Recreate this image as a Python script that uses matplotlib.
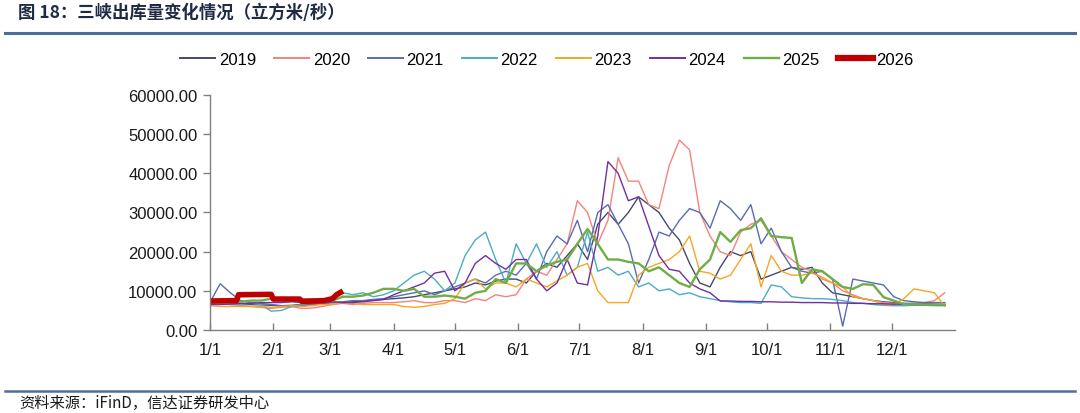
import numpy as np
import matplotlib
matplotlib.use("Agg")
import matplotlib.pyplot as plt
from matplotlib.lines import Line2D

plt.rcParams['font.family'] = ['Liberation Sans', 'Noto Sans CJK SC', 'DejaVu Sans']

# day-of-year sample positions (every 5 days)
days = list(range(0, 361, 5))

y2019 = [6800, 6700, 6600, 6500, 6500, 6400,
         6300, 6200, 6300, 6500, 6600, 6800,
         7000, 7000, 7200, 7400, 7600, 7800,
         8000, 8200, 8500, 9000, 9500, 10000,
         10500, 11000, 12000, 11500, 12500, 13000,
         13000, 12000, 15000, 17000, 16000, 19000,
         22000, 18000, 27000, 30000, 27000, 30000,
         34000, 32000, 30000, 26000, 23000, 17000,
         12000, 11000, 16000, 20000, 19000, 20000,
         13000, 14000, 15000, 16000, 15500, 16000,
         12000, 9500, 9000, 8500, 8000, 7500,
         7200, 7000, 6800, 6800, 6700, 6600, 6500]

y2020 = [7000, 6800, 6500, 6300, 6000, 5800,
         5500, 5800, 6000, 5500, 5600, 6000,
         6500, 6800, 6500, 6800, 7000, 7000,
         7000, 7200, 7500, 7000, 7000, 7500,
         7500, 7000, 8000, 7500, 9000, 8500,
         9000, 13000, 15000, 14000, 18000, 22000,
         33000, 30000, 22000, 28000, 44000, 38000,
         38000, 32000, 31000, 42000, 48500, 46000,
         30000, 24000, 20000, 19000, 25000, 27000,
         28000, 24000, 20000, 18000, 16000, 15000,
         13000, 12000, 10000, 9000, 8000, 7500,
         7000, 6800, 6500, 6800, 7000, 7500, 9500]

y2021 = [7000, 11800, 9500, 7500, 7000, 6800,
         6500, 6200, 6000, 6200, 6500, 6800,
         7000, 7200, 7500, 7500, 7800, 8000,
         8500, 9000, 9500, 10000, 9000, 10000,
         11000, 12000, 13000, 12000, 14000, 15000,
         14000, 17000, 13000, 20000, 24000, 22000,
         28000, 20000, 30000, 32000, 27000, 22000,
         12000, 18000, 25000, 24000, 28000, 31000,
         30000, 26000, 33000, 31000, 28000, 32000,
         22000, 26000, 20000, 16000, 15000, 14500,
         15000, 13000, 1000, 13000, 12500, 12000,
         11500, 8500, 7500, 7200, 7000, 7000, 7000]

y2022 = [7000, 6800, 6500, 6500, 6800, 6500,
         4800, 5000, 6000, 6500, 7000, 7500,
         8500, 9500, 9000, 9500, 8500, 9000,
         10000, 12000, 14000, 15000, 13000, 10000,
         12000, 19000, 23000, 25000, 18000, 12000,
         22000, 17000, 22000, 16000, 20000, 14000,
         16000, 25000, 15000, 16000, 14000, 15000,
         11000, 12000, 10000, 10500, 9000, 9500,
         8500, 8000, 7500, 7200, 7000, 7000,
         6800, 11500, 11000, 8500, 8200, 8000,
         8000, 7800, 7500, 7000, 6800, 6500,
         6300, 6200, 6200, 6300, 6300, 6200, 6200]

y2023 = [6200, 6000, 6000, 6000, 6000, 6000,
         5800, 6000, 6200, 6000, 6200, 6500,
         6500, 7000, 6800, 6500, 6500, 6500,
         6500, 6000, 5800, 6000, 6500, 6800,
         8000, 12000, 13000, 10500, 12000, 12000,
         11000, 13000, 12000, 11000, 12500, 14000,
         16000, 17000, 10000, 7000, 7000, 7000,
         14000, 16000, 17000, 18000, 20000, 24000,
         15000, 14500, 13000, 14000, 18000, 22000,
         11000, 19000, 15000, 14000, 14000, 14500,
         13500, 12000, 11000, 8500, 8000, 7500,
         6500, 6500, 8000, 10500, 10000, 9500, 6000]

y2024 = [6500, 6500, 6600, 6800, 6800, 7000,
         7000, 7000, 7200, 7000, 7000, 7200,
         7200, 7000, 7000, 7200, 7500, 7800,
         9000, 10000, 11000, 12000, 14500, 15000,
         10000, 12000, 17000, 19000, 17000, 15500,
         18000, 18000, 13000, 10000, 12000, 18000,
         12000, 11500, 24000, 43000, 40000, 33000,
         34000, 26500, 19000, 15500, 15000, 12000,
         10500, 9500, 7400, 7400, 7300, 7300,
         7200, 7200, 7100, 7100, 7000, 7000,
         7000, 6900, 6900, 6800, 6800, 6700,
         6700, 6600, 6600, 6500, 6500, 6500, 6400]

y2025 = [7000, 7000, 7200, 7200, 7500, 7500,
         8000, 8200, 8000, 7800, 7800, 7500,
         7500, 8500, 8500, 8800, 9500, 10500,
         10500, 10000, 10500, 8500, 8500, 8800,
         8500, 8000, 9500, 10000, 13000, 12000,
         17000, 17000, 15000, 16500, 17400, 18000,
         22000, 25800, 22000, 18000, 18000, 17400,
         17000, 15000, 16000, 14000, 12000, 11000,
         15500, 18000, 25000, 22500, 25500, 26000,
         28500, 24000, 23700, 23500, 12000, 15500,
         15000, 13000, 11000, 10500, 11700, 11500,
         8400, 7500, 6600, 6600, 6500, 6500, 6500]

days2026 = [0, 13, 14, 30, 31, 44, 45, 56, 60, 62, 64]
y2026 = [7400, 7500, 9000, 9100, 7900, 7900, 7300, 7500, 8000, 9000, 9600]

series = [
    ("2019", days, y2019, "#414b6b", 1.0),
    ("2020", days, y2020, "#f4837d", 1.0),
    ("2021", days, y2021, "#5b6bb0", 1.0),
    ("2022", days, y2022, "#4bacc6", 1.0),
    ("2023", days, y2023, "#f6a623", 1.0),
    ("2024", days, y2024, "#7030a0", 1.0),
    ("2025", days, y2025, "#70ad47", 1.7),
    ("2026", days2026, y2026, "#c00000", 4.0),
]

month_days = [0, 31, 59, 90, 120, 151, 181, 212, 243, 273, 304, 334]
month_labels = ["1/1", "2/1", "3/1", "4/1", "5/1", "6/1", "7/1", "8/1",
                "9/1", "10/1", "11/1", "12/1"]
y_ticks = [0, 10000, 20000, 30000, 40000, 50000, 60000]

fig = plt.figure(figsize=(10.8, 4.14), dpi=100)
ax = fig.add_axes([0.1944, 0.2005, 0.6898, 0.5676])

handles = []
for name, xs, ys, col, lw in series:
    ax.plot(xs, ys, color=col, lw=lw, solid_joinstyle='round')
    handles.append(Line2D([], [], color=col,
                          lw=(4.5 if name == "2026" else max(lw, 1.4)), label=name))

ax.set_xlim(0, 365)
ax.set_ylim(0, 60000)
ax.set_xticks(month_days)
ax.set_xticklabels(month_labels)
ax.set_yticks(y_ticks)
ax.set_yticklabels([f"{v:.2f}" for v in y_ticks])

for s in ["top", "right"]:
    ax.spines[s].set_visible(False)
for s in ["left", "bottom"]:
    ax.spines[s].set_color("#808080")
    ax.spines[s].set_linewidth(1.0)

ax.tick_params(axis='x', direction='in', length=5, width=1.0, color="#808080",
               labelsize=12, pad=9, labelcolor="#1a1a1a")
ax.tick_params(axis='y', direction='out', length=5, width=1.0, color="#808080",
               labelsize=12, pad=4, labelcolor="#1a1a1a")

fig.legend(handles=handles, loc='center', bbox_to_anchor=(0.5065, 0.855),
           ncol=8, frameon=False, fontsize=12, handlelength=2.1,
           handletextpad=0.2, columnspacing=1.1)

# header and footer
fig.text(0.017, 0.968, "图 18：三峡出库量变化情况（立方米/秒）", fontsize=12.5,
         fontweight='bold', color="#1f2a44", va='center', ha='left',
         family=['Noto Sans CJK SC', 'DejaVu Sans'])
fig.add_artist(Line2D([0.005, 0.995], [0.918, 0.918], color="#4f6d9b", lw=2.2,
                      transform=fig.transFigure))
fig.add_artist(Line2D([0.005, 0.995], [0.054, 0.054], color="#4f6d9b", lw=1.8,
                      transform=fig.transFigure))
fig.text(0.018, 0.026, "资料来源：iFinD，信达证券研发中心", fontsize=11,
         color="#1a1a1a", va='center', ha='left', style='italic',
         family=['Noto Sans CJK SC', 'DejaVu Sans'])

fig.savefig("out.png", dpi=100)
